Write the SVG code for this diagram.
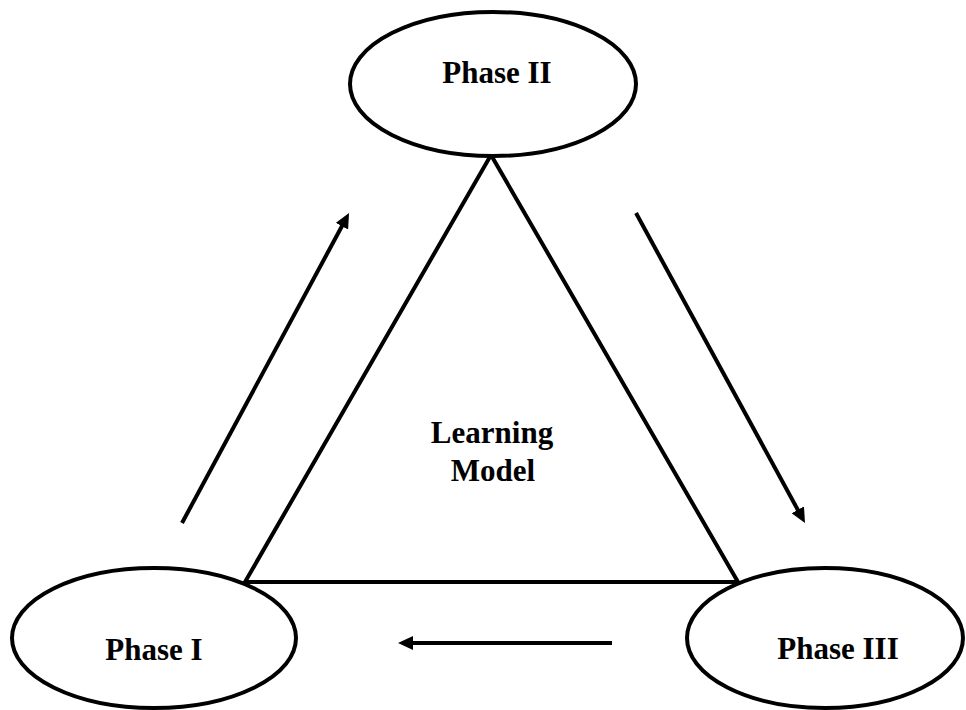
<svg xmlns="http://www.w3.org/2000/svg" width="966" height="710" viewBox="0 0 966 710">
<style>
.shape{fill:#fff;stroke:#000;stroke-width:4}
.tri{fill:none;stroke:#000;stroke-width:4;stroke-linejoin:miter}
.lbl{font-family:"Liberation Serif","Times New Roman",serif;font-weight:bold;font-size:31px;fill:#000;text-anchor:middle}
.conn{stroke:#000;stroke-width:4;fill:none;marker-end:url(#ah)}
</style>
<defs>
<marker id="ah" markerUnits="userSpaceOnUse" markerWidth="15" markerHeight="14" refX="5" refY="7" orient="auto">
<path d="M0,0 L15,7 L0,14 z" fill="#000"/>
</marker>
</defs>
<rect width="966" height="710" fill="#fff"/>
<g id="learning-model">
<polygon class="tri" points="491,155 245,582 738,582"/>
<text class="lbl" x="492" y="443">Learning</text>
<text class="lbl" x="493" y="481">Model</text>
</g>
<g id="phase-2">
<ellipse class="shape" cx="493" cy="84" rx="143" ry="72"/>
<text class="lbl" x="497" y="83">Phase II</text>
</g>
<g id="phase-1">
<ellipse class="shape" cx="154" cy="638" rx="142" ry="70"/>
<text class="lbl" x="154" y="660">Phase I</text>
</g>
<g id="phase-3">
<ellipse class="shape" cx="825" cy="638" rx="138" ry="70"/>
<text class="lbl" x="838" y="659">Phase III</text>
</g>
<g id="connectors">
<line class="conn" x1="182" y1="523" x2="344.3" y2="221.8"/>
<line class="conn" x1="636" y1="213" x2="800.2" y2="514.2"/>
<line class="conn" x1="612" y1="643" x2="408" y2="643"/>
</g>
</svg>
